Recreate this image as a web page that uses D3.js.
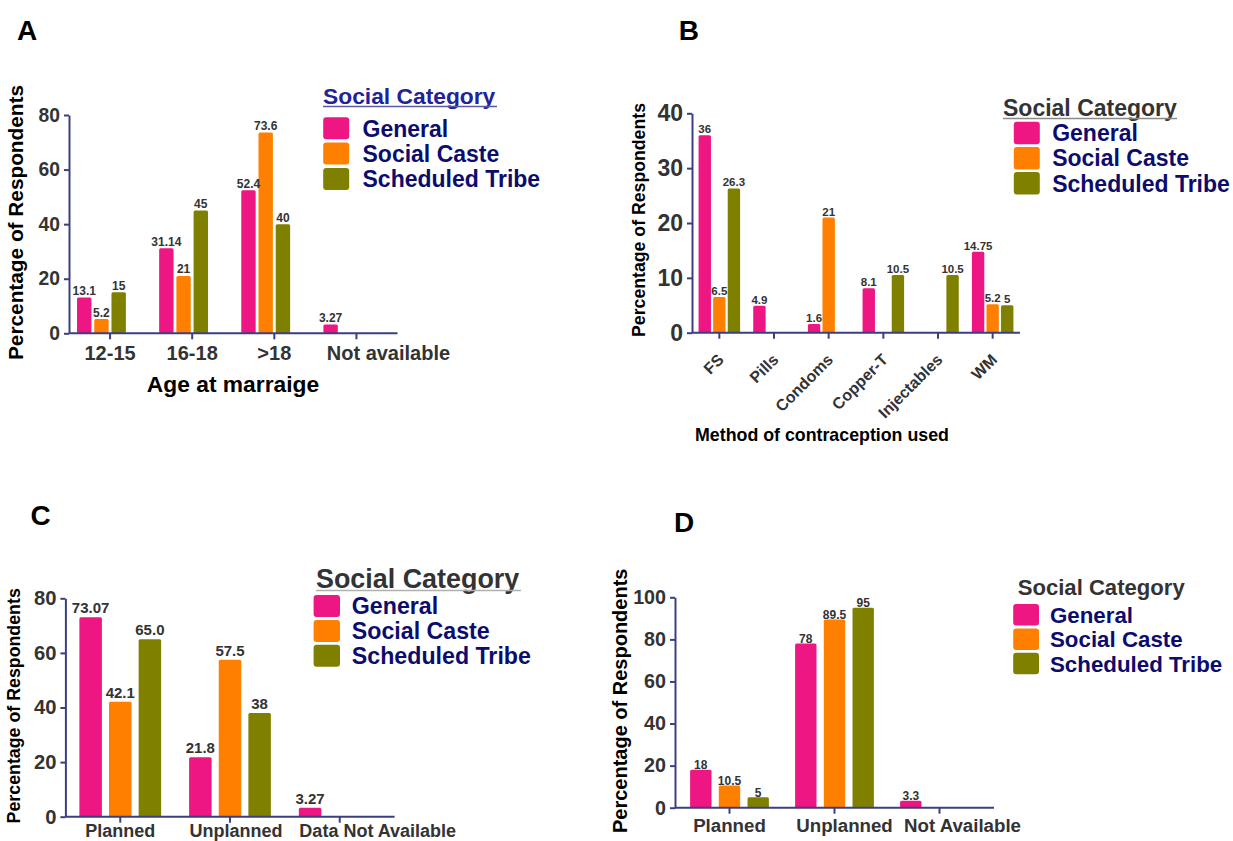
<!DOCTYPE html>
<html>
<head>
<meta charset="utf-8">
<script src="https://cdn.jsdelivr.net/npm/d3@7"></script>
<style>
  body { margin: 0; background: #fff; }
  svg { display: block; font-family: Arial, "Liberation Sans", Helvetica, sans-serif; font-weight: bold; }
</style>
</head>
<body>
<svg id="fig" width="1233" height="841"></svg>
<script>
// ---------- data ----------
const seriesNames = ["General", "Social Caste", "Scheduled Tribe"];
const seriesColors = ["#ee1683", "#ff8000", "#808000"];

// A: age at marriage
const ageCategories = ["12-15", "16-18", ">18", "Not available"];
const ageGeneral = ["13.1", "31.14", "52.4", "3.27"];
const ageSocialCaste = ["5.2", "21", "73.6", null];
const ageScheduledTribe = ["15", "45", "40", null];
const ageTicks = [0, 20, 40, 60, 80];

// B: method of contraception used
const methodCategories = ["FS", "Pills", "Condoms", "Copper-T", "Injectables", "WM"];
const methodGeneral = ["36", "4.9", "1.6", "8.1", null, "14.75"];
const methodSocialCaste = ["6.5", null, "21", null, null, "5.2"];
const methodScheduledTribe = ["26.3", null, null, "10.5", "10.5", "5"];
const methodTicks = [0, 10, 20, 30, 40];

// C: planned vs unplanned
const planCategories = ["Planned", "Unplanned", "Data Not Available"];
const planGeneral = ["73.07", "21.8", "3.27"];
const planSocialCaste = ["42.1", "57.5", null];
const planScheduledTribe = ["65.0", "38", null];
const planTicks = [0, 20, 40, 60, 80];

// D: planned vs unplanned
const plan2Categories = ["Planned", "Unplanned", "Not Available"];
const plan2General = ["18", "78", "3.3"];
const plan2SocialCaste = ["10.5", "89.5", null];
const plan2ScheduledTribe = ["5", "95", null];
const plan2Ticks = [0, 20, 40, 60, 80, 100];

// ---------- layout ----------
const AXIS = "#3b3f7e";
const TEXT = "#333333";
const NAVY = "#0c0c6e";

const panels = [
  {
    letter: "A", letterPos: [17, 39.5],
    categories: ageCategories, series: [ageGeneral, ageSocialCaste, ageScheduledTribe], ticks: ageTicks,
    left: 69, right: 397.5, xRange: [69, 397.5], y0: 333.3, yTop: 115,
    slots: 4, groupFrac: 0.839, barPad: 0.164,
    yTickFont: 19.3, xTickFont: 20, xTickBaseline: 360, xNudge: [0, 0, 0, 32],
    xTitle: "Age at marraige", xTitleFont: 22.8, xTitlePos: [233, 391.5],
    yTitleFont: 20.8, yTitlePos: [23, 222.5],
    valueFont: 12, valueGap: 2.5,
    legend: { x: 323, baseline: 103.5, font: 22.8, color: "#22229a", underline: { y: 106.5, x2: 497, color: "#5a5aa8" },
              swX: 323.2, swW: 26, swH: 22, swY: 117.3, step: 25.3, labelX: 362.5, labelFont: 23 }
  },
  {
    letter: "B", letterPos: [678.7, 39.5],
    categories: methodCategories, series: [methodGeneral, methodSocialCaste, methodScheduledTribe], ticks: methodTicks,
    left: 692, right: 1020, xRange: [692, 1020], y0: 332.7, yTop: 113.3,
    slots: 3, groupFrac: 0.8, barPad: 0.15,
    yTickFont: 23, xTickFont: 16, rotated: { dx: 5.5, dy: 28 },
    xTitle: "Method of contraception used", xTitleFont: 17.8, xTitlePos: [822, 441],
    yTitleFont: 17.7, yTitlePos: [644.7, 220],
    valueFont: 11.5, valueGap: 2,
    legend: { x: 1003, baseline: 116, font: 23, color: TEXT, underline: { y: 118.5, x2: 1177, color: "#8a8a8a" },
              swX: 1013.8, swW: 26, swH: 22.5, swY: 121.7, step: 25.2, labelX: 1052.2, labelFont: 23 }
  },
  {
    letter: "C", letterPos: [30.4, 525],
    categories: planCategories, series: [planGeneral, planSocialCaste, planScheduledTribe], ticks: planTicks,
    left: 65.4, right: 394.6, xRange: [65.4, 394.6], y0: 816.7, yTop: 598.3,
    slots: 3, groupFrac: 0.81, barPad: 0.24,
    yTickFont: 20.2, xTickFont: 18, xTickBaseline: 837.5, xNudge: [0, 6, 38],
    yTitleFont: 17.8, yTitlePos: [19.5, 705.8],
    valueFont: 15, valueGap: 4,
    legend: { x: 316, baseline: 588.3, font: 26.9, color: TEXT, underline: { y: 590.5, x2: 521, color: "#b0b0b0" },
              swX: 313.6, swW: 26.4, swH: 22, swY: 595, step: 24.9, labelX: 351.8, labelFont: 23.2 }
  },
  {
    letter: "D", letterPos: [674, 531.7],
    categories: plan2Categories, series: [plan2General, plan2SocialCaste, plan2ScheduledTribe], ticks: plan2Ticks,
    left: 675, right: 994, xRange: [677, 992], y0: 807.7, yTop: 597.3,
    slots: 3, groupFrac: 0.82, barPad: 0.255,
    yTickFont: 19.7, xTickFont: 18.7, xTickBaseline: 832, xNudge: [0, 10, 23],
    yTitleFont: 20, yTitlePos: [626.8, 700.8],
    valueFont: 12, valueGap: 0.5,
    legend: { x: 1017.7, baseline: 595, font: 22.1, color: TEXT, underline: null,
              swX: 1013.2, swW: 25.8, swH: 21.5, swY: 604, step: 24.4, labelX: 1050, labelFont: 22.3 }
  }
];

// ---------- drawing ----------
const svg = d3.select("#fig");

function drawPanel(p) {
  const g = svg.append("g");
  const yMax = d3.max(p.ticks);

  const y = d3.scaleLinear().domain([0, yMax]).range([p.y0, p.yTop]);
  const x0 = d3.scaleBand().domain(p.categories).range(p.xRange)
    .paddingInner(1 - p.groupFrac).paddingOuter((1 - p.groupFrac) / 2);
  const x1 = d3.scaleBand().domain(d3.range(p.slots)).range([0, x0.bandwidth()])
    .paddingInner(p.barPad).paddingOuter(p.barPad / 2);

  // panel letter
  g.append("text").attr("x", p.letterPos[0]).attr("y", p.letterPos[1])
    .attr("font-size", 28).attr("fill", "#000").text(p.letter);

  // bars
  const rows = [];
  p.series.forEach((vals, si) => {
    vals.forEach((v, ci) => {
      if (v !== null) rows.push({ cat: p.categories[ci], s: si, label: v, value: +v });
    });
  });

  g.append("g").selectAll("rect").data(rows).join("rect")
    .attr("x", d => x0(d.cat) + x1(d.s))
    .attr("y", d => y(d.value))
    .attr("width", x1.bandwidth())
    .attr("height", d => y(0) - y(d.value))
    .attr("rx", 1.5)
    .attr("fill", d => seriesColors[d.s]);

  // value labels
  g.append("g").selectAll("text").data(rows).join("text")
    .attr("x", d => x0(d.cat) + x1(d.s) + x1.bandwidth() / 2)
    .attr("y", d => y(d.value) - p.valueGap)
    .attr("text-anchor", "middle")
    .attr("font-size", p.valueFont)
    .attr("fill", TEXT)
    .text(d => d.label);

  // y axis
  const yAxis = g.append("g").attr("transform", `translate(${p.left},0)`)
    .call(d3.axisLeft(y).tickValues(p.ticks).tickSize(5).tickSizeOuter(0).tickPadding(4).tickFormat(d3.format("d")));
  yAxis.select(".domain").attr("stroke", AXIS).attr("stroke-width", 2);
  yAxis.selectAll(".tick line").attr("stroke", AXIS).attr("stroke-width", 2);
  yAxis.selectAll(".tick text").attr("font-size", p.yTickFont).attr("fill", TEXT);

  // x axis
  const xAxis = g.append("g").attr("transform", `translate(0,${p.y0})`)
    .call(d3.axisBottom(x0).tickSize(6).tickSizeOuter(0));
  xAxis.select(".domain").remove();
  xAxis.append("line").attr("x1", p.left).attr("x2", p.right).attr("y1", 0).attr("y2", 0)
    .attr("stroke", AXIS).attr("stroke-width", 2);
  xAxis.selectAll(".tick line").attr("stroke", AXIS).attr("stroke-width", 2);
  const xt = xAxis.selectAll(".tick text").attr("font-size", p.xTickFont).attr("fill", TEXT);
  if (p.rotated) {
    xt.attr("x", 0).attr("y", 0).attr("dy", 0)
      .attr("text-anchor", "end")
      .attr("transform", `translate(${p.rotated.dx},${p.rotated.dy}) rotate(-45)`);
  } else {
    xt.attr("dy", 0).attr("y", p.xTickBaseline - p.y0)
      .attr("x", (d, i) => p.xNudge[i]);
  }
  xAxis.attr("font-family", null).attr("font-size", null);
  yAxis.attr("font-family", null).attr("font-size", null);

  // axis titles
  if (p.xTitle) {
    g.append("text").attr("x", p.xTitlePos[0]).attr("y", p.xTitlePos[1])
      .attr("text-anchor", "middle").attr("font-size", p.xTitleFont).attr("fill", "#000")
      .text(p.xTitle);
  }
  g.append("text")
    .attr("transform", `translate(${p.yTitlePos[0]},${p.yTitlePos[1]}) rotate(-90)`)
    .attr("text-anchor", "middle").attr("font-size", p.yTitleFont).attr("fill", "#000")
    .text("Percentage of Respondents");

  // legend
  const L = p.legend;
  g.append("text").attr("x", L.x).attr("y", L.baseline)
    .attr("font-size", L.font).attr("fill", L.color).text("Social Category");
  if (L.underline) {
    g.append("line").attr("x1", L.x).attr("x2", L.underline.x2)
      .attr("y1", L.underline.y).attr("y2", L.underline.y)
      .attr("stroke", L.underline.color).attr("stroke-width", 1.5);
  }
  const items = g.append("g").selectAll("g").data(seriesNames).join("g")
    .attr("transform", (d, i) => `translate(0,${L.swY + i * L.step})`);
  items.append("rect").attr("x", L.swX).attr("y", 0)
    .attr("width", L.swW).attr("height", L.swH).attr("rx", 3)
    .attr("fill", (d, i) => seriesColors[i]);
  items.append("text").attr("x", L.labelX).attr("y", L.swH / 2 + L.labelFont * 0.36)
    .attr("font-size", L.labelFont).attr("fill", NAVY).text(d => d);
}

panels.forEach(drawPanel);
</script>
</body>
</html>
